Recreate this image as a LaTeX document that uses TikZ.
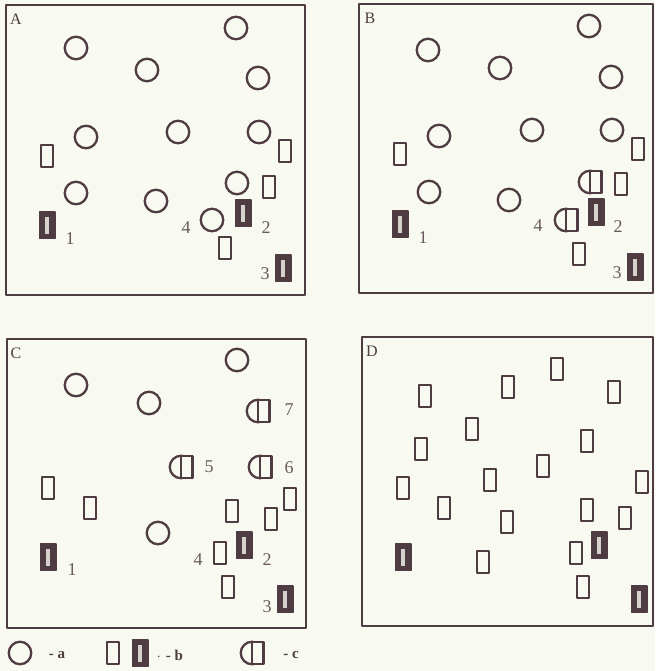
\documentclass[tikz,border=0pt]{standalone}
\usepackage{fontspec}
\setmainfont{Liberation Serif}
\definecolor{ink}{RGB}{78,60,66}
\definecolor{paper}{RGB}{248,249,240}
\definecolor{slotgray}{RGB}{214,211,204}
\tikzset{
  ring/.style={circle, draw=ink, line width=2.3pt, minimum size=22.5pt, inner sep=0pt},
  openbox/.style={rectangle, draw=ink, line width=2.2pt, minimum width=11.5pt, minimum height=22.5pt, inner sep=0pt, outer sep=0pt},
  darkbox/.style={rectangle, draw=ink, fill=ink, line width=1.5pt, minimum width=15.5pt, minimum height=26.5pt, inner sep=0pt,
    path picture={\fill[slotgray] ([xshift=-2.3pt,yshift=-8.5pt]path picture bounding box.center) rectangle ([xshift=2.3pt,yshift=8.5pt]path picture bounding box.center);}},
  panel/.style={draw=ink, line width=1.6pt},
  tag/.style={font=\fontsize{16}{16}\selectfont, text=ink, inner sep=0pt},
  num/.style={font=\fontsize{18}{18}\selectfont, text=ink!85, inner sep=0pt},
  key/.style={font=\bfseries\fontsize{15}{15}\selectfont, text=ink, inner sep=0pt},
}
% half circle with box: #1 name, #2/#3 box centre
\newcommand\halfbox[3]{%
  \node[ring] (#1) at ({#2-7},#3) {};
  \node[openbox, fill=paper, anchor=west] (#1-b) at (#1.center) {};}
\begin{document}
\begin{tikzpicture}[x=1pt, y=-1pt, line join=round]
  \fill[paper] (0,0) rectangle (655,671);
  \useasboundingbox (0,0) rectangle (655,671);

  % panel A
  \draw[panel] (6,5) rectangle (305,295);
  \node[tag] (tagA) at (16,19) {A};
  \foreach \px/\py [count=\i] in {76/48, 236/28, 147/70, 258/78, 86/137, 178/132, 259/132, 76/193, 156/201, 237/183, 212/220}
    \node[ring] (A-r\i) at (\px,\py) {};
  \foreach \px/\py [count=\i] in {47/156, 285/151, 269/187, 225/248}
    \node[openbox] (A-o\i) at (\px,\py) {};
  \foreach \px/\py [count=\i] in {47/225, 243/213, 283/268}
    \node[darkbox] (A-d\i) at (\px,\py) {};
  \foreach \t/\px/\py in {1/70/239, 2/266/228, 3/265/274, 4/186/228}
    \node[num] (A-n\t) at (\px,\py) {\t};

  % panel B
  \draw[panel] (359,4) rectangle (653,293);
  \node[tag] (tagB) at (370,18) {B};
  \foreach \px/\py [count=\i] in {428/50, 589/26, 500/68, 611/77, 439/136, 532/130, 612/130, 429/192, 509/200}
    \node[ring] (B-r\i) at (\px,\py) {};
  \foreach \px/\py [count=\i] in {400/154, 638/149, 621/184, 579/254}
    \node[openbox] (B-o\i) at (\px,\py) {};
  \halfbox{B-h1}{597}{182}
  \halfbox{B-h2}{573}{220}
  \foreach \px/\py [count=\i] in {400/224, 596/212, 635/267}
    \node[darkbox] (B-d\i) at (\px,\py) {};
  \foreach \t/\px/\py in {1/423/238, 2/618/227, 3/617/273, 4/538/226}
    \node[num] (B-n\t) at (\px,\py) {\t};

  % panel C
  \draw[panel] (7,339) rectangle (306,628);
  \node[tag] (tagC) at (16,353) {C};
  \foreach \px/\py [count=\i] in {76/385, 237/360, 149/403, 158/533}
    \node[ring] (C-r\i) at (\px,\py) {};
  \halfbox{C-h1}{265}{411}
  \halfbox{C-h2}{188}{467}
  \halfbox{C-h3}{267}{467}
  \foreach \px/\py [count=\i] in {48/488, 90/508, 232/511, 290/499, 271/519, 220/553, 228/587}
    \node[openbox] (C-o\i) at (\px,\py) {};
  \foreach \px/\py [count=\i] in {48/557, 244/545, 285/599}
    \node[darkbox] (C-d\i) at (\px,\py) {};
  \foreach \t/\px/\py in {1/72/570, 2/267/560, 3/267/607, 4/198/560, 5/209/467, 6/289/468, 7/289/410}
    \node[num] (C-n\t) at (\px,\py) {\t};

  % panel D
  \draw[panel] (362,337) rectangle (653,626);
  \node[tag] (tagD) at (372,351) {D};
  \foreach \px/\py [count=\i] in {425/396, 508/387, 557/369, 614/392, 472/429, 421/449, 587/441, 543/466, 403/488,
      490/480, 642/482, 444/508, 587/510, 507/522, 625/518, 483/562, 576/553, 583/587}
    \node[openbox] (D-o\i) at (\px,\py) {};
  \foreach \px/\py [count=\i] in {403/557, 599/545, 639/599}
    \node[darkbox] (D-d\i) at (\px,\py) {};

  % legend
  \node[ring] (key-a) at (20,653) {};
  \node[key] (key-at) at (57,655) {- a};
  \node[openbox] (key-b1) at (113,653) {};
  \node[darkbox] (key-b2) at (140,653) {};
  \node[key] (key-bt) at (170,655) {$\cdot$\,\,- b};
  \halfbox{key-c}{259}{653}
  \node[key] (key-ct) at (291,655) {- c};
\end{tikzpicture}
\end{document}
